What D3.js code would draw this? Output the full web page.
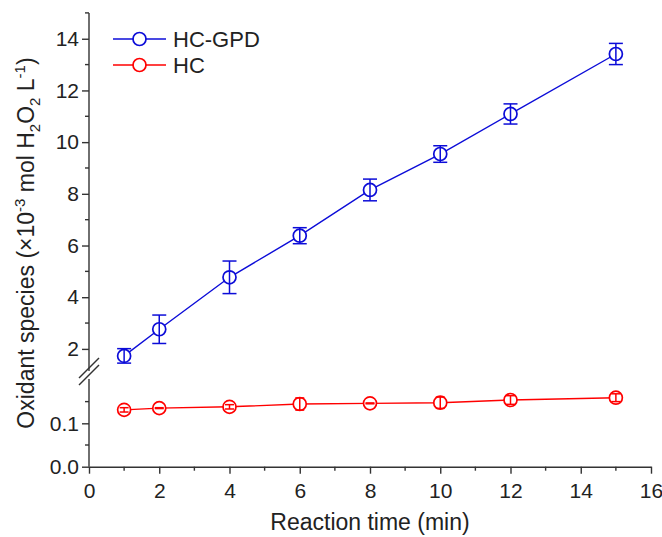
<!DOCTYPE html>
<html>
<head>
<meta charset="utf-8" />
<title></title>
<style>
  body { margin: 0; background: #fff; }
  text { font-family: "Liberation Sans", Arial, sans-serif; fill: #222; }
  .axis path, .axis line { stroke: #333; stroke-width: 1.4px; }
  .axis text { font-size: 21px; fill: #222; }
</style>
</head>
<body>
<script src="https://d3js.org/d3.v7.min.js"></script>
<script>
var width = 662, height = 537;

// data
var times = [1, 2, 4, 6, 8, 10, 12, 15];
var hcgpd = [1.73, 2.76, 4.77, 6.38, 8.15, 9.54, 11.09, 13.41];
var hcgpdErr = [0.28, 0.55, 0.63, 0.31, 0.42, 0.32, 0.39, 0.41];
var hc = [0.131, 0.135, 0.138, 0.1445, 0.146, 0.1475, 0.1537, 0.159];
var hcErr = [0.005, 0.001, 0.005, 0.014, 0.001, 0.013, 0.010, 0.009];

var xTicks = [0, 2, 4, 6, 8, 10, 12, 14, 16];
var xMinor = [1, 3, 5, 7, 9, 11, 13, 15];
var yUpTicks = [2, 4, 6, 8, 10, 12, 14];
var yUpMinor = [3, 5, 7, 9, 11, 13, 15];
var yLowTicks = [0.0, 0.1];
var yLowMinor = [0.05, 0.15];

var blue = "#0c0cd8", red = "#ff0000";

var svg = d3.select("body").append("svg")
    .attr("width", width)
    .attr("height", height);

var x = d3.scaleLinear().domain([0, 16]).range([89, 651]);
var yUp = d3.scaleLinear().domain([1.3, 15]).range([367, 12.9]);
var yLow = d3.scaleLinear().domain([0, 0.18]).range([466.7, 388.6]);

// x axis
var xg = svg.append("g").attr("class", "axis")
    .attr("transform", "translate(0," + yLow(0) + ")");
xg.call(d3.axisBottom(x).tickValues(xTicks).tickSize(7).tickSizeOuter(0).tickPadding(9).tickFormat(d3.format("d")));
xg.append("g").selectAll("line").data(xMinor).enter().append("line")
    .attr("x1", function(d){ return x(d); }).attr("x2", function(d){ return x(d); })
    .attr("y1", 0).attr("y2", 4);

// y axis upper part
var yg1 = svg.append("g").attr("class", "axis")
    .attr("transform", "translate(" + x(0) + ",0)");
yg1.call(d3.axisLeft(yUp).tickValues(yUpTicks).tickSize(7).tickSizeOuter(0).tickPadding(3).tickFormat(d3.format("d")));
yg1.select(".domain").attr("d", "M0," + yUp(15) + "V371");
yg1.append("g").selectAll("line").data(yUpMinor).enter().append("line")
    .attr("y1", function(d){ return yUp(d); }).attr("y2", function(d){ return yUp(d); })
    .attr("x1", 0).attr("x2", -4);

// y axis lower part
var yg2 = svg.append("g").attr("class", "axis")
    .attr("transform", "translate(" + x(0) + ",0)");
yg2.call(d3.axisLeft(yLow).tickValues(yLowTicks).tickSize(7).tickSizeOuter(0).tickPadding(3).tickFormat(d3.format(".1f")));
yg2.select(".domain").attr("d", "M0,379V" + yLow(0));
yg2.append("g").selectAll("line").data(yLowMinor).enter().append("line")
    .attr("y1", function(d){ return yLow(d); }).attr("y2", function(d){ return yLow(d); })
    .attr("x1", 0).attr("x2", -4);

// break marks
[368, 375].forEach(function(cy) {
  svg.append("line")
    .attr("x1", x(0) - 10).attr("y1", cy + 10)
    .attr("x2", x(0) + 10).attr("y2", cy - 10)
    .attr("stroke", "#333").attr("stroke-width", 1.4);
});

function drawSeries(vals, errs, scale, color, capW) {
  var pts = times.map(function(t, i){ return {t: t, v: vals[i], e: errs[i]}; });
  var g = svg.append("g");
  g.append("path").datum(pts)
    .attr("fill", "none").attr("stroke", color).attr("stroke-width", 1.4)
    .attr("d", d3.line().x(function(d){ return x(d.t); }).y(function(d){ return scale(d.v); }));
  g.selectAll("circle").data(pts).enter().append("circle")
    .attr("cx", function(d){ return x(d.t); })
    .attr("cy", function(d){ return scale(d.v); })
    .attr("r", 6.5)
    .attr("fill", "#fff").attr("stroke", color).attr("stroke-width", 1.7);
  var eb = g.selectAll(".eb").data(pts).enter().append("g").attr("class", "eb")
    .attr("stroke", color).attr("stroke-width", 1.5);
  eb.append("line")
    .attr("x1", function(d){ return x(d.t); }).attr("x2", function(d){ return x(d.t); })
    .attr("y1", function(d){ return scale(d.v - d.e); }).attr("y2", function(d){ return scale(d.v + d.e); });
  eb.append("line")
    .attr("x1", function(d){ return x(d.t) - capW; }).attr("x2", function(d){ return x(d.t) + capW; })
    .attr("y1", function(d){ return scale(d.v + d.e); }).attr("y2", function(d){ return scale(d.v + d.e); });
  eb.append("line")
    .attr("x1", function(d){ return x(d.t) - capW; }).attr("x2", function(d){ return x(d.t) + capW; })
    .attr("y1", function(d){ return scale(d.v - d.e); }).attr("y2", function(d){ return scale(d.v - d.e); });
}

drawSeries(hcgpd, hcgpdErr, yUp, blue, 7);
drawSeries(hc, hcErr, yLow, red, 4.5);

// legend
var legend = [{name: "HC-GPD", color: blue, y: 39}, {name: "HC", color: red, y: 65}];
legend.forEach(function(l) {
  svg.append("line").attr("x1", 113).attr("x2", 166).attr("y1", l.y).attr("y2", l.y)
    .attr("stroke", l.color).attr("stroke-width", 1.4);
  svg.append("circle").attr("cx", 139.5).attr("cy", l.y).attr("r", 6.5)
    .attr("fill", "#fff").attr("stroke", l.color).attr("stroke-width", 1.7);
  svg.append("text").attr("x", 173).attr("y", l.y + 8)
    .style("font-size", "22px").text(l.name);
});

// axis titles
svg.append("text")
    .attr("x", x(8)).attr("y", 530)
    .attr("text-anchor", "middle")
    .style("font-size", "23px")
    .text("Reaction time (min)");

var yt = svg.append("text")
    .attr("transform", "translate(34,243) rotate(-90)")
    .attr("text-anchor", "middle")
    .style("font-size", "23px");
yt.append("tspan").text("Oxidant species (\u00d710");
yt.append("tspan").attr("dy", -9).style("font-size", "15px").text("-3");
yt.append("tspan").attr("dy", 9).text(" mol H");
yt.append("tspan").attr("dy", 6).style("font-size", "15px").text("2");
yt.append("tspan").attr("dy", -6).text("O");
yt.append("tspan").attr("dy", 6).style("font-size", "15px").text("2");
yt.append("tspan").attr("dy", -6).text(" L");
yt.append("tspan").attr("dy", -9).style("font-size", "15px").text("-1");
yt.append("tspan").attr("dy", 9).text(")");
</script>
</body>
</html>
